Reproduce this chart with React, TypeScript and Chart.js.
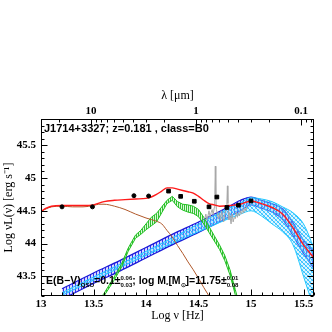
import React, { useEffect, useRef } from "react";
import { Chart, registerables } from "chart.js";
Chart.register(...registerables);

const X_MIN = 13;
const X_MAX = 15.6;
const Y_MIN = 43.2;
const Y_MAX = 45.9;
const LOG_C_UM = 14.4771; // log10 of c in micron/s

const xTickValues = [13, 13.5, 14, 14.5, 15, 15.5];
const xTickLabels = ["13", "13.5", "14", "14.5", "15", "15.5"];
const yTickValues = [43.5, 44, 44.5, 45, 45.5];
const yTickLabels = ["43.5", "44", "44.5", "45", "45.5"];
const lambdaTickValues = [10, 1, 0.1];
const lambdaTickLabels = ["10", "1", "0.1"];

// photometry
const photCircX = [13.2, 13.49, 13.885, 14.025];
const photCircY = [44.56, 44.56, 44.73, 44.725];
const photSqX = [14.215, 14.33, 14.46, 14.6, 14.675, 14.77, 14.88, 15.0];
const photSqY = [44.8, 44.72, 44.645, 44.56, 44.71, 44.55, 44.585, 44.65];

// total model (red)
const totalX = [13.0, 13.05, 13.1, 13.2, 13.3, 13.4, 13.5, 13.6, 13.7, 13.8, 13.9, 14.0, 14.05, 14.1, 14.15, 14.2, 14.25, 14.3, 14.35, 14.4, 14.45, 14.5, 14.55, 14.6, 14.65, 14.7, 14.8, 14.9, 15.0, 15.1, 15.2, 15.3, 15.4, 15.5, 15.6];
const totalY = [44.49, 44.54, 44.57, 44.58, 44.58, 44.58, 44.59, 44.64, 44.66, 44.67, 44.68, 44.69, 44.71, 44.75, 44.8, 44.85, 44.85, 44.83, 44.81, 44.79, 44.77, 44.72, 44.66, 44.61, 44.59, 44.57, 44.58, 44.6, 44.65, 44.61, 44.55, 44.45, 44.24, 43.98, 43.78];

// torus / brown component
const brownX = [13.0, 13.05, 13.1, 13.2, 13.3, 13.4, 13.5, 13.55, 13.6, 13.7, 13.8, 13.9, 14.0, 14.1, 14.15, 14.2, 14.25, 14.3, 14.35, 14.4, 14.45, 14.5, 14.55, 14.6];
const brownY = [44.49, 44.53, 44.56, 44.57, 44.56, 44.56, 44.58, 44.6, 44.6, 44.57, 44.52, 44.45, 44.39, 44.34, 44.3, 44.2, 44.1, 43.97, 43.85, 43.72, 43.6, 43.47, 43.33, 43.2];

// host galaxy band (green)
const greenX = [13.55, 13.6, 13.7, 13.77, 13.83, 13.9, 13.95, 14.0, 14.05, 14.1, 14.15, 14.2, 14.25, 14.3, 14.35, 14.4, 14.45, 14.5, 14.55, 14.6, 14.65, 14.7, 14.75, 14.8, 14.85, 14.9];
const greenUpper = [43.12, 43.24, 43.5, 43.7, 43.93, 44.13, 44.2, 44.3, 44.4, 44.46, 44.56, 44.66, 44.72, 44.64, 44.6, 44.59, 44.57, 44.52, 44.4, 44.26, 44.12, 43.98, 43.82, 43.6, 43.3, 43.0];
const greenLower = [43.09, 43.2, 43.45, 43.65, 43.88, 44.08, 44.14, 44.21, 44.27, 44.33, 44.47, 44.61, 44.66, 44.56, 44.51, 44.48, 44.46, 44.41, 44.3, 44.17, 44.04, 43.91, 43.74, 43.52, 43.22, 42.92];

// AGN band (dark blue)
const blueX = [13.2, 13.5, 13.75, 14.0, 14.25, 14.5, 14.75, 14.9, 15.0, 15.1, 15.2, 15.3, 15.4, 15.5, 15.6];
const blueUpper = [43.31, 43.55, 43.74, 43.94, 44.14, 44.33, 44.53, 44.66, 44.71, 44.66, 44.61, 44.53, 44.32, 44.05, 43.88];
const blueLower = [43.15, 43.39, 43.58, 43.78, 43.98, 44.17, 44.37, 44.5, 44.59, 44.54, 44.48, 44.37, 44.12, 43.85, 43.62];

// AGN band (light blue)
const cyanX = [13.2, 13.5, 14.0, 14.5, 14.7, 14.9, 15.0, 15.1, 15.2, 15.3, 15.4, 15.5, 15.6];
const cyanUpper = [43.25, 43.49, 43.88, 44.3, 44.47, 44.62, 44.7, 44.68, 44.64, 44.56, 44.47, 44.3, 43.93];
const cyanLower = [43.21, 43.44, 43.82, 44.18, 44.32, 44.45, 44.5, 44.42, 44.3, 44.18, 43.98, 43.5, 43.0];

// optical spectrum (grey)
const specX = [14.56, 14.57, 14.58, 14.59, 14.6, 14.61, 14.62, 14.63, 14.64, 14.65, 14.655, 14.66, 14.665, 14.67, 14.68, 14.69, 14.7, 14.71, 14.72, 14.73, 14.74, 14.75, 14.76, 14.77, 14.775, 14.78, 14.785, 14.79, 14.8, 14.81, 14.82, 14.83, 14.84, 14.85, 14.86, 14.87, 14.88, 14.89, 14.9, 14.91, 14.92, 14.93, 14.94, 14.95, 14.96];
const specY = [44.38, 44.45, 44.36, 44.42, 44.5, 44.4, 44.47, 44.52, 44.44, 44.55, 44.7, 45.18, 44.75, 44.52, 44.45, 44.38, 44.46, 44.35, 44.5, 44.42, 44.33, 44.45, 44.5, 44.6, 44.88, 44.62, 44.48, 44.36, 44.42, 44.3, 44.45, 44.33, 44.4, 44.38, 44.48, 44.4, 44.46, 44.42, 44.5, 44.45, 44.52, 44.47, 44.55, 44.5, 44.56];

const SERIF = "'Liberation Serif', 'Times New Roman', serif";
const SANS = "'Liberation Sans', Arial, sans-serif";

const pts = (xs: number[], ys: number[]) => xs.map((x, i) => ({ x, y: ys[i] }));

function makePattern(w: number, h: number, draw: (g: CanvasRenderingContext2D) => void) {
  const c = document.createElement("canvas");
  c.width = w;
  c.height = h;
  const g = c.getContext("2d")!;
  draw(g);
  return g.createPattern(c, "repeat")!;
}

type Seg = { t?: string; sub?: string; pair?: [string, string] };

function drawRich(ctx: CanvasRenderingContext2D, x0: number, y: number, segs: Seg[], size: number) {
  let x = x0;
  const big = `bold ${size}px ${SANS}`;
  const small = `bold ${Math.round(size * 0.6)}px ${SANS}`;
  ctx.textBaseline = "alphabetic";
  ctx.textAlign = "left";
  for (const s of segs) {
    if (s.t !== undefined) {
      ctx.font = big;
      ctx.fillText(s.t, x, y);
      x += ctx.measureText(s.t).width;
    } else if (s.sub !== undefined) {
      ctx.font = small;
      ctx.fillText(s.sub, x, y + 3);
      x += ctx.measureText(s.sub).width;
    } else if (s.pair) {
      ctx.font = small;
      ctx.fillText(s.pair[0], x, y - 4);
      ctx.fillText(s.pair[1], x, y + 3);
      x += Math.max(ctx.measureText(s.pair[0]).width, ctx.measureText(s.pair[1]).width);
    }
  }
}

const decorPlugin = {
  id: "decor",
  afterDraw(chart: any) {
    const { ctx, chartArea: a, scales } = chart;
    const xs = scales.x;
    const ys = scales.y;
    ctx.save();
    ctx.strokeStyle = "#000";
    ctx.lineWidth = 1;
    const L = Math.round(a.left) + 0.5;
    const R = Math.round(a.right) - 0.5;
    const T = Math.round(a.top) + 0.5;
    const B = Math.round(a.bottom) - 0.5;
    ctx.strokeRect(L, T, R - L, B - T);
    ctx.beginPath();
    // bottom ticks (log nu)
    for (let i = 0; i <= 26; i++) {
      const v = X_MIN + i * 0.1;
      const px = Math.round(xs.getPixelForValue(v)) + 0.5;
      const major = i % 5 === 0;
      const len = major ? 6 : 3;
      ctx.moveTo(px, B);
      ctx.lineTo(px, B - len);
    }
    // left & right ticks
    for (let i = 0; i <= 27; i++) {
      const v = Y_MIN + i * 0.1;
      if (v > Y_MAX + 1e-6) break;
      const py = Math.round(ys.getPixelForValue(v)) + 0.5;
      const major = Math.abs(v * 2 - Math.round(v * 2)) < 1e-6;
      const len = major ? 6 : 3;
      ctx.moveTo(L, py);
      ctx.lineTo(L + len, py);
      ctx.moveTo(R, py);
      ctx.lineTo(R - len, py);
    }
    // top ticks (lambda)
    for (let k = -2; k <= 1; k++) {
      for (let d = 1; d <= 9; d++) {
        const lam = d * Math.pow(10, k);
        const v = LOG_C_UM - Math.log10(lam);
        if (v < X_MIN || v > X_MAX) continue;
        const px = Math.round(xs.getPixelForValue(v)) + 0.5;
        const len = d === 1 ? 6 : 3;
        ctx.moveTo(px, T);
        ctx.lineTo(px, T + len);
      }
    }
    ctx.stroke();

    ctx.fillStyle = "#000";
    drawRich(ctx, a.left + 3, a.top + 13, [{ t: "J1714+3327; z=0.181 , class=B0" }], 11);
    drawRich(
      ctx,
      a.left + 5,
      a.top + 165,
      [
        { t: "E(B−V)" },
        { sub: "QSO" },
        { t: "=0.1±" },
        { pair: ["0.06", "0.03"] },
        { t: "; log M" },
        { sub: "*" },
        { t: "[M" },
        { sub: "⊙" },
        { t: "]=11.75±" },
        { pair: ["0.01", "0.08"] },
      ],
      10.5
    );
    ctx.restore();
  },
};

export default function App() {
  const ref = useRef<HTMLCanvasElement | null>(null);
  useEffect(() => {
    if (!ref.current) return;
    const greenPat = makePattern(2, 2, (g) => {
      g.fillStyle = "rgba(170,235,170,0.4)";
      g.fillRect(0, 0, 2, 2);
      g.fillStyle = "#33c233";
      g.fillRect(0, 0, 1, 2);
    });
    const bluePat = makePattern(3, 3, (g) => {
      g.fillStyle = "rgba(170,170,255,0.45)";
      g.fillRect(0, 0, 3, 3);
      g.fillStyle = "#3333ee";
      g.fillRect(0, 0, 1, 3);
    });
    const cyanPat = makePattern(4, 4, (g) => {
      g.fillStyle = "rgba(160,225,255,0.35)";
      g.fillRect(0, 0, 4, 4);
      g.fillStyle = "#30c0ff";
      for (let i = 0; i < 4; i++) g.fillRect(i, i, 1, 1);
      g.fillStyle = "rgba(48,192,255,0.6)";
      for (let i = 0; i < 4; i++) g.fillRect(3 - i, i, 1, 1);
    });

    const tickFont = { family: SERIF, size: 11, weight: "bold" as const, lineHeight: 1.2 };
    const titleFont = { family: SERIF, size: 12, lineHeight: 1.2 };

    const chart = new Chart(ref.current, {
      type: "line",
      data: {
        datasets: [
          { label: "circles", data: pts(photCircX, photCircY), showLine: false, pointStyle: "circle", pointRadius: 2, pointBackgroundColor: "#000", pointBorderColor: "#000", borderColor: "#000", order: 0 },
          { label: "squares", data: pts(photSqX, photSqY), showLine: false, pointStyle: "rect", pointRadius: 2.6, pointBackgroundColor: "#000", pointBorderColor: "#000", borderColor: "#000", order: 0 },
          { label: "total", data: pts(totalX, totalY), borderColor: "#ff1a1a", borderWidth: 1.4, pointRadius: 0, fill: false, cubicInterpolationMode: "monotone", order: 1 },
          { label: "spectrum", data: pts(specX, specY), borderColor: "#a8a8a8", borderWidth: 1, pointRadius: 0, fill: false, order: 2 },
          { label: "brown", data: pts(brownX, brownY), borderColor: "#b0582a", borderWidth: 1, pointRadius: 0, fill: false, cubicInterpolationMode: "monotone", order: 3 },
          { label: "greenLo", data: pts(greenX, greenLower), borderColor: "#22c022", borderWidth: 1, pointRadius: 0, fill: false, order: 4 },
          { label: "greenHi", data: pts(greenX, greenUpper), borderColor: "#22c022", borderWidth: 1, pointRadius: 0, fill: "-1", backgroundColor: greenPat, order: 4 },
          { label: "cyanLo", data: pts(cyanX, cyanLower), borderColor: "#22c8ff", borderWidth: 1, pointRadius: 0, fill: false, cubicInterpolationMode: "monotone", order: 5 },
          { label: "cyanHi", data: pts(cyanX, cyanUpper), borderColor: "#22c8ff", borderWidth: 1, pointRadius: 0, fill: "-1", backgroundColor: cyanPat, cubicInterpolationMode: "monotone", order: 5 },
          { label: "blueLo", data: pts(blueX, blueLower), borderColor: "#1a1ad8", borderWidth: 1.2, pointRadius: 0, fill: false, cubicInterpolationMode: "monotone", order: 6 },
          { label: "blueHi", data: pts(blueX, blueUpper), borderColor: "#1a1ad8", borderWidth: 1.2, pointRadius: 0, fill: "-1", backgroundColor: bluePat, cubicInterpolationMode: "monotone", order: 6 },
        ] as any,
      },
      plugins: [decorPlugin],
      options: {
        animation: false,
        responsive: false,
        devicePixelRatio: 1,
        layout: { padding: 0 },
        plugins: { legend: { display: false }, tooltip: { enabled: false } },
        elements: { line: { tension: 0 } },
        scales: {
          x: {
            type: "linear",
            position: "bottom",
            min: X_MIN,
            max: X_MAX,
            grid: { display: false, drawTicks: false },
            border: { display: false },
            ticks: { font: tickFont, color: "#000", padding: 2, maxRotation: 0, autoSkip: false, callback: (_v: any, i: number) => xTickLabels[i] },
            afterBuildTicks: (s: any) => {
              s.ticks = xTickValues.map((v) => ({ value: v }));
            },
            afterFit: (s: any) => {
              s.height = 36;
            },
            title: { display: true, text: "Log ν [Hz]", font: titleFont, color: "#000", padding: { top: 0, bottom: 9 } },
          },
          x2: {
            type: "linear",
            position: "top",
            min: X_MIN,
            max: X_MAX,
            grid: { display: false, drawTicks: false },
            border: { display: false },
            ticks: { font: tickFont, color: "#000", padding: 1, maxRotation: 0, autoSkip: false, callback: (_v: any, i: number) => lambdaTickLabels[i] },
            afterBuildTicks: (s: any) => {
              s.ticks = lambdaTickValues.map((l) => ({ value: LOG_C_UM - Math.log10(l) }));
            },
            afterFit: (s: any) => {
              s.height = 119;
            },
            title: { display: true, text: "λ [μm]", font: titleFont, color: "#000", padding: { top: 89, bottom: 0 } },
          },
          y: {
            type: "linear",
            position: "left",
            min: Y_MIN,
            max: Y_MAX,
            grid: { display: false, drawTicks: false },
            border: { display: false },
            ticks: { font: tickFont, color: "#000", padding: 5, autoSkip: false, callback: (_v: any, i: number) => yTickLabels[i] },
            afterBuildTicks: (s: any) => {
              s.ticks = yTickValues.map((v) => ({ value: v }));
            },
            afterFit: (s: any) => {
              s.width = 41;
            },
            title: { display: true, text: "Log νL(ν) [erg s⁻¹]", font: titleFont, color: "#000", padding: { top: 2, bottom: 0 } },
          },
          y2: {
            type: "linear",
            position: "right",
            min: Y_MIN,
            max: Y_MAX,
            grid: { display: false, drawTicks: false },
            border: { display: false },
            ticks: { display: false },
            afterFit: (s: any) => {
              s.width = 18;
            },
          },
        },
      } as any,
    });
    return () => chart.destroy();
  }, []);

  return (
    <div style={{ position: "fixed", left: 0, top: 0, width: 332, height: 332, background: "#fff" }}>
      <canvas ref={ref} width={332} height={332} style={{ display: "block", width: 332, height: 332 }} />
    </div>
  );
}
